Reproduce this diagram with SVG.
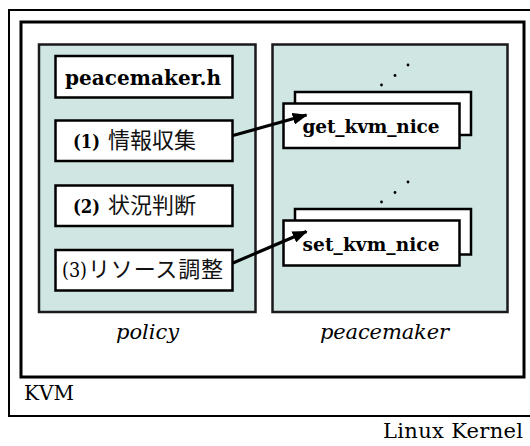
<svg xmlns="http://www.w3.org/2000/svg" width="530" height="446" viewBox="0 0 530 446">
  <style>
    .frame { fill: #ffffff; stroke: #000000; }
    .panel { fill: #cfe6e2; stroke: #1a1a1a; stroke-width: 2.5; }
    .box { fill: #ffffff; stroke: #000000; stroke-width: 2.5; }
    .serif { font-family: "DejaVu Serif", "Liberation Serif", serif; fill: #000000; }
    .bold { font-weight: bold; }
    .ital { font-style: italic; }
    .jp { font-family: "Noto Sans CJK JP", "Noto Sans CJK SC", sans-serif; fill: #111111; }
    .link { stroke: #000000; stroke-width: 3; fill: none; }
    .dot { fill: #000000; }
  </style>
  <defs>
    <marker id="arrowhead" markerWidth="5" markerHeight="4" refX="4.6" refY="2" orient="auto" markerUnits="strokeWidth">
      <path d="M0,0 L5,2 L0,4 Z" fill="#000000"/>
    </marker>
  </defs>

  <rect width="530" height="446" fill="#ffffff"/>

  <!-- Linux Kernel frame -->
  <g id="linux-kernel">
    <rect class="frame" x="9" y="10" width="560" height="406" stroke-width="2"/>
    <text class="serif" x="383" y="438" font-size="21" textLength="140">Linux Kernel</text>
  </g>

  <!-- KVM frame -->
  <g id="kvm">
    <rect class="frame" x="21" y="22" width="503" height="355" stroke-width="3"/>
    <text class="serif" x="24" y="400" font-size="20">KVM</text>
  </g>

  <!-- policy panel -->
  <g id="policy">
    <rect class="panel" x="39" y="44.5" width="216.5" height="267.5"/>
    <text class="serif ital" x="116" y="339" font-size="21">policy</text>
  </g>

  <g id="peacemaker-h">
    <rect class="box" x="55.5" y="56" width="177" height="41.5"/>
    <text class="serif bold" x="65" y="85" font-size="20" textLength="156">peacemaker.h</text>
  </g>

  <g id="step1">
    <rect class="box" x="55.5" y="120.5" width="177" height="40.5"/>
    <text class="serif bold" x="73" y="148" font-size="19" textLength="27" lengthAdjust="spacingAndGlyphs">(1)</text>
    <text class="jp" x="108" y="148" font-size="22" textLength="88">情報収集</text>
  </g>

  <g id="step2">
    <rect class="box" x="55.5" y="185.5" width="177" height="40.5"/>
    <text class="serif bold" x="73" y="213" font-size="19" textLength="27" lengthAdjust="spacingAndGlyphs">(2)</text>
    <text class="jp" x="108" y="213" font-size="22" textLength="88">状況判断</text>
  </g>

  <g id="step3">
    <rect class="box" x="55.5" y="250" width="177" height="40.5"/>
    <text class="serif" x="62" y="277" font-size="20" textLength="25" lengthAdjust="spacingAndGlyphs">(3)</text>
    <text class="jp" x="88" y="277" font-size="22" textLength="135">リソース調整</text>
  </g>

  <!-- peacemaker panel -->
  <g id="peacemaker">
    <rect class="panel" x="272.5" y="44.5" width="235" height="267.5"/>
    <text class="serif ital" x="320" y="339" font-size="21" textLength="129">peacemaker</text>
  </g>

  <g id="get-kvm-nice">
    <circle class="dot" cx="408" cy="65" r="1.4"/>
    <circle class="dot" cx="395" cy="75.5" r="1.4"/>
    <circle class="dot" cx="381.5" cy="85" r="1.4"/>
    <rect class="box" x="295" y="92" width="176" height="43"/>
    <rect class="box" x="283.5" y="103.5" width="176" height="44.5"/>
    <text class="serif bold" x="302.5" y="133.3" font-size="18.5" textLength="137">get_kvm_nice</text>
  </g>

  <g id="set-kvm-nice">
    <circle class="dot" cx="408" cy="182" r="1.4"/>
    <circle class="dot" cx="395" cy="192.5" r="1.4"/>
    <circle class="dot" cx="381.5" cy="202" r="1.4"/>
    <rect class="box" x="295" y="209" width="176" height="45.5"/>
    <rect class="box" x="283.5" y="220.5" width="176" height="45"/>
    <text class="serif bold" x="302.5" y="250.5" font-size="18.5" textLength="137">set_kvm_nice</text>
  </g>

  <!-- connectors -->
  <g id="connectors">
    <line class="link" x1="233" y1="135.5" x2="306.5" y2="115" marker-end="url(#arrowhead)"/>
    <line class="link" x1="233" y1="263" x2="306.5" y2="231.5" marker-end="url(#arrowhead)"/>
  </g>
</svg>
